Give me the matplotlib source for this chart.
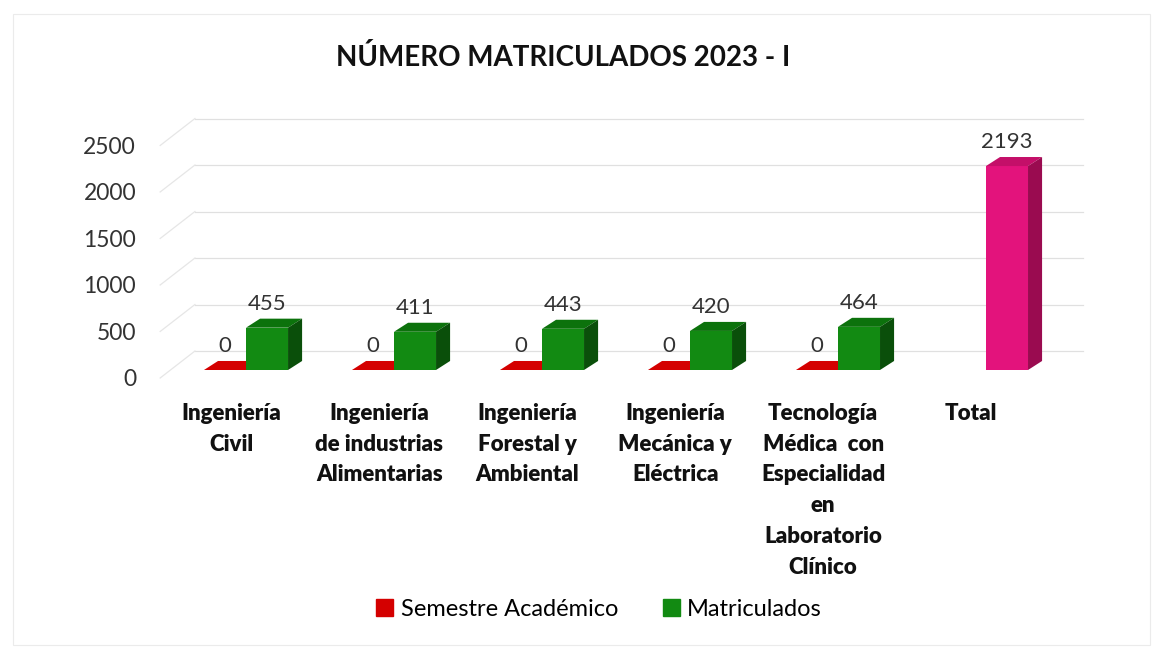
import matplotlib
matplotlib.use('Agg')
import matplotlib.pyplot as plt
from matplotlib.patches import Polygon, Patch, Rectangle
from matplotlib.transforms import ScaledTranslation

# --- data ---
categories = [
    'Ingeniería\nCivil',
    'Ingeniería\nde industrias\nAlimentarias',
    'Ingeniería\nForestal y\nAmbiental',
    'Ingeniería\nMecánica y\nEléctrica',
    'Tecnología\nMédica  con\nEspecialidad\nen\nLaboratorio\nClínico',
    'Total',
]
semestre = [0, 0, 0, 0, 0, None]
matriculados = [455, 411, 443, 420, 464, 2193]
series_names = ['Semestre Académico', 'Matriculados']
yticks = [0, 500, 1000, 1500, 2000, 2500]
title = 'NÚMERO MATRICULADOS 2023 - I'

# --- style ---
FONT = 'Lato'
plt.rcParams['font.family'] = [FONT, 'DejaVu Sans']
RED = '#d40000'
GREEN_FRONT, GREEN_TOP, GREEN_SIDE = '#128a12', '#0c720c', '#0a4f0a'
PINK_FRONT, PINK_TOP, PINK_SIDE = '#e3137c', '#c40f69', '#9a0b50'
W = 0.284        # bar width (category units)
DX, DY = 0.095, 97   # bar depth offset
WX, WY = 0.236, 204  # back wall offset

fig = plt.figure(figsize=(11.67, 6.6), dpi=100)
# axes placed in pixels: left 143, right 1110, top 100, bottom 400
ax = fig.add_axes([143 / 1167, 1 - 400 / 660, (1110 - 143) / 1167, 300 / 660])
ax.set_xlim(-0.696, 5.838)
ax.set_ylim(-322.6, 2903)
for s in ax.spines.values():
    s.set_visible(False)

# back wall gridlines + left wall diagonals
for v in yticks:
    ax.plot([-0.345, 5.655], [v + WY, v + WY], color='#e0e0e0', lw=0.9, zorder=0)
    ax.plot([-0.58, -0.345], [v - 86, v + WY], color='#e6e6e6', lw=0.9, zorder=0)


def bar3d(x0, h, front, top, side, z):
    ax.bar(x0, h, W, align='edge', color=front, zorder=z, linewidth=0)
    ax.add_patch(Polygon([(x0, h), (x0 + W, h), (x0 + W + DX, h + DY), (x0 + DX, h + DY)],
                         closed=True, color=top, zorder=z, lw=0))
    if h > 0:
        ax.add_patch(Polygon([(x0 + W, 0), (x0 + W + DX, DY), (x0 + W + DX, h + DY), (x0 + W, h)],
                             closed=True, color=side, zorder=z, lw=0))


def label(x, v, txt):
    ax.annotate(txt, xy=(x, v + DY), xytext=(0, 5), textcoords='offset pixels',
                ha='center', va='bottom', fontsize=16, color='#333333', zorder=10)


for i, (s, m) in enumerate(zip(semestre, matriculados)):
    if s is not None:
        bar3d(i - W, s, RED, RED, RED, 2)
        label(i - W / 2, s, str(s))
    if categories[i] == 'Total':
        bar3d(i, m, PINK_FRONT, PINK_TOP, PINK_SIDE, 3)
    else:
        bar3d(i, m, GREEN_FRONT, GREEN_TOP, GREEN_SIDE, 3)
    label(i + W / 2, m, str(m))

ax.set_yticks(yticks, [str(t) for t in yticks])
ax.tick_params(axis='y', length=0, pad=5, labelsize=16.5, labelcolor='#333333')
for t in ax.get_yticklabels():
    t.set_transform(t.get_transform() + ScaledTranslation(0, -8 / 100, fig.dpi_scale_trans))

ax.set_xticks([i - 0.1 for i in range(len(categories))], categories)
ax.tick_params(axis='x', length=0, pad=2, labelsize=16, labelcolor='#111111')
for t in ax.get_xticklabels():
    t.set_fontweight('heavy')
    t.set_linespacing(1.58)

fig.text(563 / 1167, 1 - 57 / 660, title, ha='center', va='center',
         fontsize=20, fontweight='bold', color='#111111')

handles = [Patch(color=RED), Patch(color=GREEN_FRONT)]
fig.legend(handles, series_names, loc='center', bbox_to_anchor=(599 / 1167, 1 - 609 / 660),
           ncol=2, frameon=False, fontsize=17, handlelength=0.72, handleheight=0.72,
           handletextpad=0.3, columnspacing=1.9)

fig.patches.append(Rectangle((13 / 1167, 15 / 660), (1150 - 13) / 1167, (646 - 15) / 660,
                             transform=fig.transFigure, fill=False, edgecolor='#ebebeb', lw=0.8))

fig.savefig('out.png', dpi=100, facecolor='white')
